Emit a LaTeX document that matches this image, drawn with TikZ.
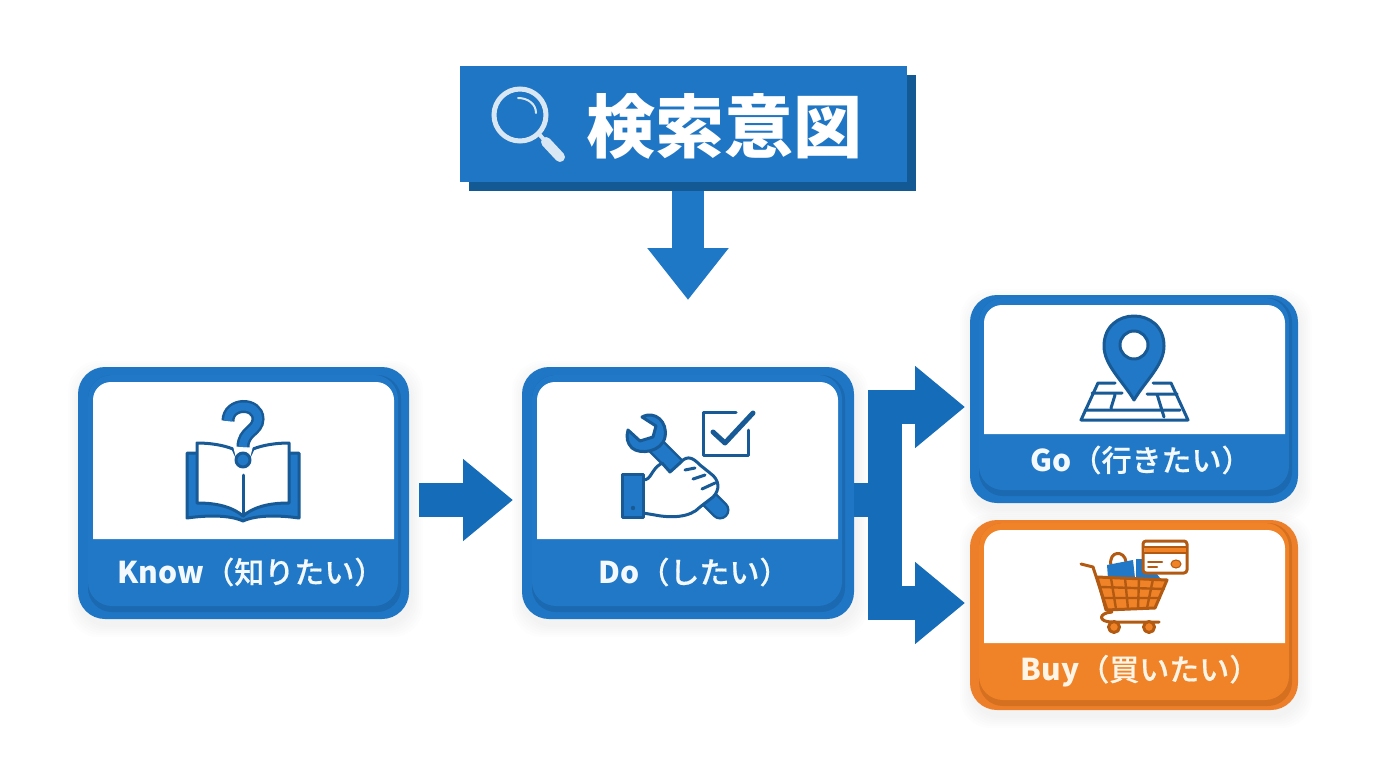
\documentclass[tikz,border=0pt]{standalone}
\usepackage{fontspec}
\setmainfont{Noto Sans CJK JP}
\newfontfamily\medfont[FakeBold=0.5]{Noto Sans CJK JP Medium}
\usetikzlibrary{arrows.meta,calc}
\definecolor{bmain}{HTML}{1F76C4}
\definecolor{bband}{HTML}{2078C6}
\definecolor{bedge}{HTML}{1B69B0}
\definecolor{bdark}{HTML}{175A96}
\definecolor{barrow}{HTML}{156CB8}
\definecolor{bhead}{HTML}{1F78C6}
\definecolor{bshadow}{HTML}{135A94}
\definecolor{omain}{HTML}{EE7F2A}
\definecolor{oband}{HTML}{F08228}
\definecolor{oedge}{HTML}{D4701F}
\definecolor{odark}{HTML}{B35A12}
\definecolor{ltxt}{HTML}{F3F9FD}
\definecolor{ltxto}{HTML}{FFF5E6}
\definecolor{lens}{HTML}{D9E7F4}
\tikzset{
  x=1pt,y=-1pt,
  blockarrow/.style={draw=barrow,line width=34pt,miter limit=10,-{Triangle[length=50pt,width=79pt,sep=0pt]}},
  cardouter/.style={rectangle,rounded corners=27pt,inner sep=0pt,outer sep=0pt,fill=#1},
  cardlabel/.style={font=\fontsize{30}{34}\selectfont,inner sep=0pt},
  ic/.style={line width=3pt,line join=round,line cap=round},
  icb/.style={ic,draw=bdark,fill=bband},
  icw/.style={ic,draw=bdark,fill=white},
  icl/.style={ic,draw=bdark},
  ico/.style={ic,draw=odark,fill=oband},
  icwo/.style={ic,draw=odark,fill=white},
  iclo/.style={ic,draw=odark},
}
\newcommand{\drawcard}[8]{%
  \foreach \gr in {12,10,8,6,4,2}{%
    \fill[black,opacity=0.009,rounded corners=30pt] (#2-\gr+2,#3-\gr+6) rectangle (#4+\gr+2,#5+\gr+6);}%
  \node[cardouter=#8,minimum width=#4pt-#2pt,minimum height=#5pt-#3pt] (#1) at ({(#2+#4)/2},{(#3+#5)/2}) {};
}
\newcommand{\drawinner}[8]{% x0,y0,x1,y1,whitebottom,bandbottom,band,edge
  \fill[#8,rounded corners=24pt] (#1+10,#2+8) rectangle (#3-8,#6+6);
  \fill[#7,rounded corners=24pt] (#1+10,#2+8) rectangle (#3-11,#6);
  \fill[white] (#1+15,#5) -- (#1+15,#2+33) .. controls (#1+15,#2+23) and (#1+23,#2+15) .. (#1+33,#2+15)
    -- (#3-33,#2+15) .. controls (#3-23,#2+15) and (#3-15,#2+23) .. (#3-15,#2+33) -- (#3-15,#5) -- cycle;
}
\newcommand{\lbl}[2]{{\bfseries #1}{\medfont #2}}
\begin{document}
\begin{tikzpicture}
\useasboundingbox (0,0) rectangle (1376,768);
\fill[white] (0,0) rectangle (1376,768);

% header
\node[rectangle,fill=bshadow,inner sep=0pt,minimum width=447pt,minimum height=116pt] (hdrshadow) at (692.5,133) {};
\coordinate (dotip) at (688,300);
\draw[blockarrow,draw=bhead,line width=32pt,-{Triangle[length=52pt,width=78pt,sep=0pt]}] (dotip |- hdrshadow.south) -- (dotip);
\node[rectangle,fill=bmain,inner sep=0pt,minimum width=447pt,minimum height=116pt] (hdr) at (683.5,124) {};
\node[text=white,font=\bfseries\fontsize{69}{76}\selectfont,inner sep=0pt] (hdrtext) at (724,126) {検索意図};
% magnifier
\draw[lens,line width=5pt] (520,115) circle (26);
\draw[lens,line width=4pt] (539,134) -- (546,142);
\draw[lens,line width=10pt,line cap=round] (546,142) -- (560,157);
\draw[lens,line width=2pt,line cap=round] (518,98) .. controls (528,98) and (536,104) .. (536,113);

% cards and connectors
\drawcard{know}{78}{367}{409}{619}{539}{606}{bmain}
\drawcard{do}{522}{367}{854}{619}{539}{606}{bmain}
\drawcard{go}{970}{295}{1298}{503}{434}{490}{bmain}
\drawcard{buy}{970}{520}{1298}{710}{643}{700}{omain}
\draw[blockarrow] ([shift={(10,7)}]know.east) -- ([shift={(-9,7)}]do.west);
\draw[blockarrow] ([shift={(0,7)}]do.east) -- ++(31,0) |- ([shift={(-5,8)}]go.west);
\draw[blockarrow] ([shift={(0,7)}]do.east) -- ++(31,0) |- ([shift={(-5,-12)}]buy.west);

% card insides
\drawinner{78}{367}{409}{619}{539}{606}{bband}{bedge}
\drawinner{522}{367}{853}{619}{539}{606}{bband}{bedge}
\drawinner{969}{290}{1300}{503}{434}{490}{bband}{bedge}
\drawinner{969}{515}{1300}{710}{643}{700}{oband}{oedge}

\node[cardlabel,text=ltxt] (knowlabel) at (251,572) {\lbl{Know}{（知りたい）}};
\node[cardlabel,text=ltxt] (dolabel) at (694,572) {\lbl{Do}{（したい）}};
\node[cardlabel,text=ltxt] (golabel) at (1141,460) {\lbl{Go}{（行きたい）}};
\node[cardlabel,text=ltxto] (buylabel) at (1140,671) {\lbl{Buy}{（買いたい）}};

% book icon
\draw[icb] (197,453) -- (187,453) -- (187,518) .. controls (208,515) and (230,515) .. (243,521)
  .. controls (256,515) and (278,515) .. (299,518) -- (299,453) -- (289,453) -- cycle;
\draw[icw] (243,516) .. controls (230,505) and (212,503) .. (197,503) -- (197,443) .. controls (210,443) and (223,445) .. (233,449) -- (243,470) -- (253,449)
  .. controls (263,445) and (276,443) .. (289,443) -- (289,503) .. controls (274,503) and (256,505) .. (243,516) -- cycle;
\fill[white] (233,446) -- (253,446) -- (246,474) -- (240,474) -- cycle;
\draw[icl] (243,475) -- (243,516);
\draw[bdark,line width=13pt] (228,421) .. controls (228,402) and (258,402) .. (258,419) .. controls (258,431) and (243,431) .. (243,447);
\draw[bband,line width=8pt] (228,421) .. controls (228,402) and (258,402) .. (258,419) .. controls (258,431) and (243,431) .. (243,447);
\draw[icb] (243,460) circle (7);

% tools icon
\draw[bdark,line width=19pt,line cap=round] (655,445) -- (720,510);
\draw[bband,line width=14pt,line cap=round] (655,445) -- (720,510);
\draw[icb] (628,430) -- (640,441) -- (653,437) -- (656,426) -- (642,417) .. controls (655,410) and (668,422) .. (665,437)
  .. controls (662,452) and (640,455) .. (632,448) .. controls (627,443) and (626,437) .. (628,430) -- cycle;
\draw[icw] (643,480) .. controls (652,480) and (650,470) .. (662,463) -- (670,472) -- (680,463) .. controls (688,453) and (695,460) .. (700,465)
  -- (710,473) .. controls (720,480) and (720,490) .. (713,497) -- (700,507) .. controls (690,518) and (670,518) .. (655,515) -- (643,513) -- cycle;
\draw[icl] (685,470) -- (695,468) (693,479) -- (705,475) (702,489) -- (715,483);
\draw[icb] (622,474) rectangle (643,517);
\fill[bdark] (633,508) circle (2.2);
\draw[icl] (736,412) -- (703,412) -- (703,455) -- (748,455) -- (748,430);
\draw[icl,line width=5pt] (713,432) -- (725,443) -- (753,413);

% map pin icon
\draw[icl] (1115,383) -- (1098,383) -- (1081,420) -- (1188,420) -- (1171,383) -- (1153,383);
\draw[icl] (1092,393) -- (1122,393) (1115,395) -- (1111,408) (1085,410) -- (1180,410)
  (1147,394) -- (1177,394) (1157,394) -- (1164,417);
\draw[icb] (1134,400) .. controls (1122,380) and (1104,365) .. (1104,346) .. controls (1104,306) and (1164,306) .. (1164,346)
  .. controls (1164,365) and (1146,380) .. (1134,400) -- cycle;
\draw[icw] (1134,345) circle (14);

% cart icon
\draw[iclo] (1111,566) .. controls (1108,550) and (1125,550) .. (1126,562);
\fill[bband] (1107,565) -- (1133,560) -- (1135,578) -- (1108,578) -- cycle;
\fill[bband] (1136,559) -- (1145,559) -- (1160,578) -- (1136,578) -- cycle;
\draw[ico] (1097,577) -- (1167,580) -- (1155,608) -- (1106,610) -- cycle;
\draw[iclo,line width=2.4pt] (1101,587) -- (1164,589) (1103,598) -- (1160,598)
  (1111,578) -- (1116,609) (1125,578) -- (1128,609) (1139,579) -- (1138,609) (1153,579) -- (1147,608);
\draw[iclo] (1081,564) -- (1093,567) -- (1107,610);
\draw[iclo] (1112,612) .. controls (1098,613) and (1098,622) .. (1112,622) -- (1159,622);
\draw[ico] (1114,627) circle (5.5);
\draw[ico] (1149,627) circle (5.5);
\draw[icwo,rounded corners=3pt] (1143,541) rectangle (1187,573);
\fill[oband] (1144.5,547) rectangle (1185.5,553);
\draw[iclo,line width=1.5pt] (1144,547) -- (1186,547) (1144,553) -- (1186,553);
\draw[iclo,line width=2pt] (1148,562) -- (1162,562) (1148,567) -- (1157,567);
\fill[oband,draw=odark,line width=1pt] (1176,564) ellipse (5 and 4);
\end{tikzpicture}
\end{document}
